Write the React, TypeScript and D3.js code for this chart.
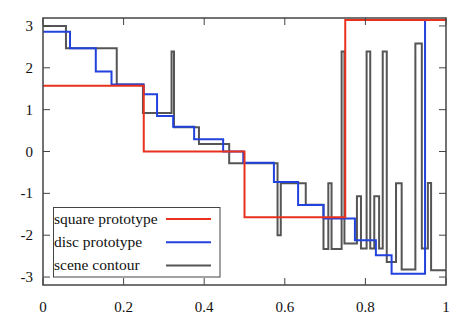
import React from "react";
import * as d3 from "d3";

const xTicks = [0, 0.2, 0.4, 0.6, 0.8, 1];
const yTicks = [-3, -2, -1, 0, 1, 2, 3];

const squareX = [0, 0.25, 0.5, 0.75, 1];
const squareY = [1.5708, 0, -1.5708, 3.1416, 3.1416];

const discX = [0, 0.067, 0.131, 0.17, 0.25, 0.283, 0.323, 0.375, 0.447, 0.497, 0.573, 0.633, 0.696, 0.774, 0.826, 0.865, 0.948, 1];
const discY = [2.86, 2.47, 1.91, 1.6, 1.37, 0.85, 0.59, 0.29, 0.0, -0.27, -0.73, -1.28, -1.6, -2.12, -2.48, -2.92, 3.14, 3.14];

const sceneX = [0, 0.057, 0.183, 0.248, 0.319, 0.325, 0.387, 0.462, 0.582, 0.59, 0.652, 0.696, 0.708, 0.716, 0.741, 0.748, 0.779, 0.789, 0.803, 0.812, 0.822, 0.834, 0.843, 0.853, 0.876, 0.89, 0.924, 0.94, 0.955, 0.963, 1];
const sceneY = [3.0, 2.47, 1.6, 0.92, 2.39, 0.58, 0.18, -0.28, -2.0, -0.76, -1.27, -2.33, -0.76, -2.33, 2.39, -2.2, -1.07, -2.32, 2.39, -2.32, -1.07, -2.32, 2.39, -2.64, -0.76, -2.82, 2.58, -2.32, -0.75, -2.84, -2.84];

const legendLabels = ["square prototype", "disc prototype", "scene contour"];
const colors = ["#e8321e", "#2242de", "#555555"];

export default function App() {
  const W = 474, H = 333;
  const left = 43, right = 446, top = 18, bottom = 285;
  const x = d3.scaleLinear().domain([0, 1]).range([left, right]);
  const y = d3.scaleLinear().domain([-3.19, 3.19]).range([bottom, top]);
  const line = d3
    .line<[number, number]>()
    .x((d) => x(d[0]))
    .y((d) => y(d[1]))
    .curve(d3.curveStepAfter);
  const series = [
    { xs: squareX, ys: squareY },
    { xs: discX, ys: discY },
    { xs: sceneX, ys: sceneY },
  ];
  const tl = 7;
  const ff = "Liberation Serif";
  return (
    <svg width={W} height={H} style={{ position: "absolute", left: 0, top: 0 }} fontFamily={ff}>
      <rect width={W} height={H} fill="#fff" />
      <defs>
        <clipPath id="plot">
          <rect x={left} y={top} width={right - left} height={bottom - top} />
        </clipPath>
      </defs>
      <g clipPath="url(#plot)">
        {[2, 1, 0].map((i) => (
          <path
            key={i}
            d={line(series[i].xs.map((v, j) => [v, series[i].ys[j]] as [number, number])) || ""}
            fill="none"
            stroke={colors[i]}
            strokeWidth={2}
          />
        ))}
      </g>
      {xTicks.map((t) => (
        <g key={"x" + t}>
          <line x1={x(t)} x2={x(t)} y1={bottom} y2={bottom - tl} stroke="#444" strokeWidth={1} />
          <line x1={x(t)} x2={x(t)} y1={top} y2={top + tl} stroke="#444" strokeWidth={1} />
          <text x={x(t)} y={312} textAnchor="middle" fontFamily={ff} fontSize={15} fill="#111">
            {t}
          </text>
        </g>
      ))}
      {yTicks.map((t) => (
        <g key={"y" + t}>
          <line x1={left} x2={left + tl} y1={y(t)} y2={y(t)} stroke="#444" strokeWidth={1} />
          <line x1={right} x2={right - tl} y1={y(t)} y2={y(t)} stroke="#444" strokeWidth={1} />
          <text x={33} y={y(t) + 5} textAnchor="end" fontFamily={ff} fontSize={15} fill="#111">
            {t}
          </text>
        </g>
      ))}
      <rect x={left} y={top} width={right - left} height={bottom - top} fill="none" stroke="#444" strokeWidth={1.5} />
      <rect x={53.5} y={207.5} width={166.5} height={69.5} fill="#fff" stroke="#444" strokeWidth={1} />
      {legendLabels.map((lab, i) => (
        <g key={lab}>
          <text x={54} y={223.5 + i * 23.3} fontFamily={ff} fontSize={15.5} fill="#111">
            {lab}
          </text>
          <line x1={166} x2={211} y1={219 + i * 23.3} y2={219 + i * 23.3} stroke={colors[i]} strokeWidth={2} />
        </g>
      ))}
    </svg>
  );
}
